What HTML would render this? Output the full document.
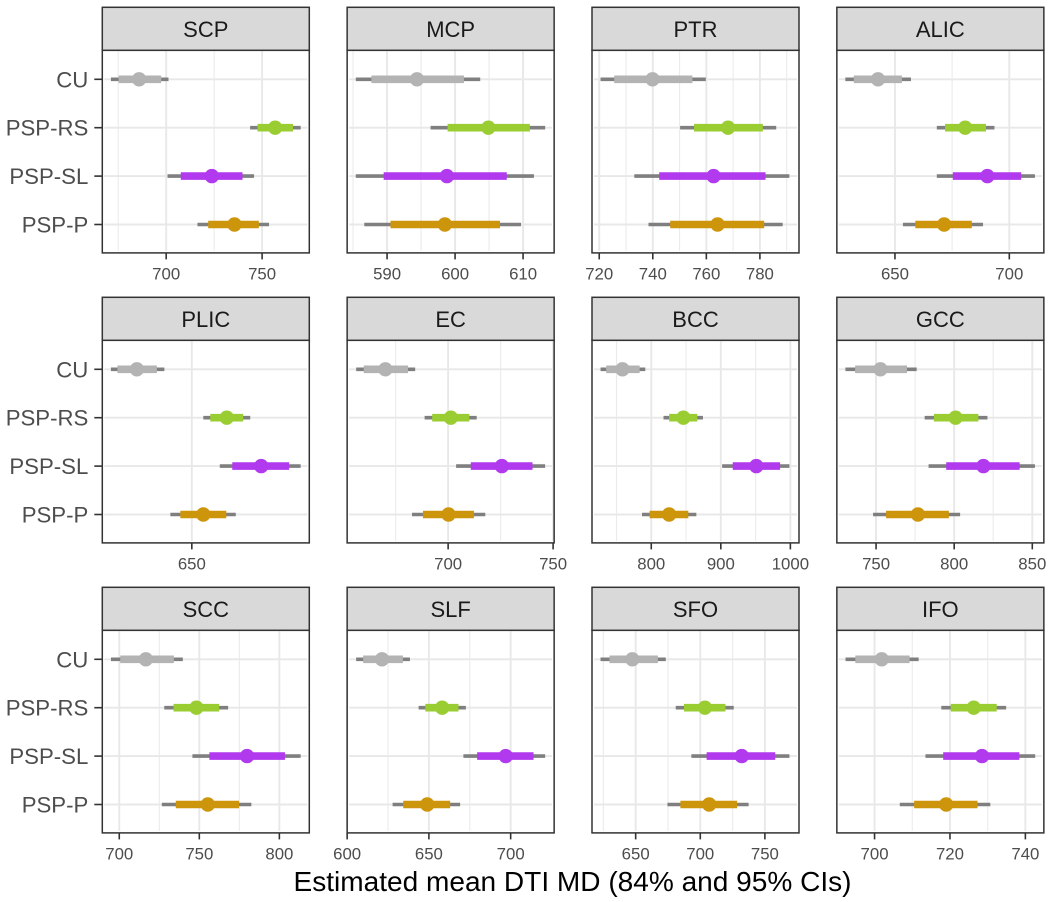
<!DOCTYPE html>
<html lang="en">
<head>
<meta charset="utf-8">
<title>Estimated mean DTI MD by region and group</title>
<style>
html,body{margin:0;padding:0;background:#fff;}
svg{display:block;font-family:"Liberation Sans",Arial,sans-serif;}
</style>
</head>
<body>
<svg id="chart" xmlns="http://www.w3.org/2000/svg" width="1050" height="902" viewBox="0 0 1050 902">
  <rect x="0" y="0" width="1050" height="902" fill="#ffffff"></rect>
  <text x="572.5" y="891" text-anchor="middle" font-size="28.05" fill="#000000">Estimated mean DTI MD (84% and 95% CIs)</text>
</svg>
<script>
const regions = ['SCP','MCP','PTR','ALIC','PLIC','EC','BCC','GCC','SCC','SLF','SFO','IFO'];
const groups = ['CU','PSP-RS','PSP-SL','PSP-P'];
const groupColors = ['#b3b3b3','#9acd32','#b23aee','#cd950c'];

const domainMin = [666.7,584.13,717.3,624.6,632.07,651.9,714.8,724.9,689.4,600,616.2,690];
const domainMax = [774.6,614.57,794.6,715.1,673.53,750.5,1012.4,857.4,818.7,726.6,776.4,744.9];

const majorTicks = [
  [700,750],[590,600,610],[720,740,760,780],[650,700],
  [650],[700,750],[800,900,1000],[750,800,850],
  [700,750,800],[600,650,700],[650,700,750],[700,720,740]
];
const minorTicks = [
  [675,725],[585,595,605],[730,750,770,790],[675],
  [],[675,725],[750,850,950],[775,825],
  [725,775],[625,675],[625,675,725],[710,730]
];

const lower95 = [
  [671.2,743.75,700.7,716.3],[585.4,596.4,585.4,586.65],[720.5,750.2,733.1,738.4],[628.3,668.3,668.3,653.5],
  [633.8,652.3,655.6,645.7],[656.2,688.8,703.8,682.8],[727.1,817.6,901.9,786.7],[730.4,781.1,783.6,748.1],
  [694.8,728.1,745.7,726.6],[605.5,643.7,671.1,627.8],[622.8,681,693.1,674.6],[692.3,717.7,713.5,706.7]
];
const lower84 = [
  [675.2,747.6,707.6,721.9],[587.7,598.9,589.5,590.5],[725.6,755.4,742.4,746.5],[632,671.9,675.3,658.9],
  [635.1,653.7,658.1,647.7],[659.8,692.4,710.8,688],[735.2,825.7,917.1,797.6],[736.6,787,794.9,756.4],
  [700.6,733.9,756.3,735.3],[609.8,647.8,679.5,634.3],[629.7,687.4,704.9,684.6],[694.9,720.2,718.2,710.5]
];
const medians = [
  [685.9,756.8,723.8,735.6],[594.4,604.9,598.8,598.5],[739.9,768.1,762.7,764.2],[642.6,680.7,690.4,671.5],
  [639,657,663.9,652.3],[670.1,701.3,725.6,700.2],[758.6,846.2,951,825.7],[752.8,800.9,818.7,776.8],
  [716.6,748.2,779.8,755.3],[621.3,658.1,697,649],[647.4,703.6,732.1,706.9],[701.9,726.3,728.5,719]
];
const upper84 = [
  [697.4,766.1,739.8,748.3],[601.3,611,607.6,606.6],[754.8,781.1,782.1,781.6],[653.05,689.8,705.2,683.6],
  [643,660.3,669.5,656.9],[680.9,710.1,740.2,712.3],[783.3,866.2,985.2,853.3],[769.8,815.5,841.9,796.6],
  [734.1,762.4,803.5,774.8],[634.1,668.1,714,663],[667.2,719.5,758,728.5],[709.3,732.4,738.4,727.3]
];
const upper95 = [
  [701.2,770.1,745.8,753.6],[603.7,613.25,611.6,609.7],[759.8,786.1,791,788.5],[657,693.5,711.2,688.5],
  [644.5,661.7,671.8,658.8],[684.3,713.6,746.2,717.7],[791.4,874.3,998.6,864.8],[776,821.3,851.7,803.8],
  [739.7,768,813.3,782.5],[638.4,672.6,721.1,669.1],[673.3,725.9,769,737.4],[711.7,734.9,742.6,730.7]
];

const NS = 'http://www.w3.org/2000/svg';
const svg = document.getElementById('chart');

function shape(parent, tag, attrs, text) {
  const el = document.createElementNS(NS, tag);
  for (const k in attrs) el.setAttribute(k, attrs[k]);
  if (text !== undefined) el.textContent = text;
  parent.appendChild(el);
  return el;
}
function panelBox(p) {
  const col = p % 4, row = Math.floor(p / 4);
  const left = 102.3 + col * 244.85;
  const stripTop = 7.3 + row * 290;
  return { left: left, right: left + 207, stripTop: stripTop, top: stripTop + 43, bottom: stripTop + 245.6 };
}
function xScale(p, v) {
  const b = panelBox(p);
  return b.left + (v - domainMin[p]) / (domainMax[p] - domainMin[p]) * (b.right - b.left);
}
function yScale(p, g) {
  const b = panelBox(p);
  return b.top + 29 + g * 48.4;
}

regions.forEach(function (region, p) {
  const b = panelBox(p);
  const key = region.toLowerCase();

  const panel = shape(svg, 'g', {});
  
  

  const bg = shape(panel, 'rect', { x: b.left, y: b.top, width: b.right - b.left, height: b.bottom - b.top, fill: '#ffffff' });
  
  

  minorTicks[p].forEach(function (t) {
    const x = xScale(p, t);
    const gl = shape(panel, 'line', { x1: x, x2: x, y1: b.top + 1, y2: b.bottom - 2, stroke: '#ebebeb', 'stroke-width': 1.1 });
    
    
  });
  majorTicks[p].forEach(function (t) {
    const x = xScale(p, t);
    const gl = shape(panel, 'line', { x1: x, x2: x, y1: b.top + 1, y2: b.bottom - 2, stroke: '#e8e8e8', 'stroke-width': 1.9 });
    
    
  });
  groups.forEach(function (g, i) {
    const y = yScale(p, i);
    const gl = shape(panel, 'line', { x1: b.left + 2, x2: b.right - 2, y1: y, y2: y, stroke: '#e8e8e8', 'stroke-width': 1.9 });
    
    
  });

  groups.forEach(function (g, i) {
    const y = yScale(p, i);
    const gkey = g.toLowerCase();

    const thin = shape(panel, 'line', { x1: xScale(p, lower95[p][i]), x2: xScale(p, upper95[p][i]), y1: y, y2: y, stroke: '#7f7f7f', 'stroke-width': 3.6 });
    
    

    const thick = shape(panel, 'line', { x1: xScale(p, lower84[p][i]), x2: xScale(p, upper84[p][i]), y1: y, y2: y, stroke: groupColors[i], 'stroke-width': 7.6 });
    
    

    const dot = shape(panel, 'circle', { cx: xScale(p, medians[p][i]), cy: y, r: 7.2, fill: groupColors[i] });
    
    
  });

  const border = shape(panel, 'rect', { x: b.left, y: b.top, width: b.right - b.left, height: b.bottom - b.top, fill: 'none', stroke: '#333333', 'stroke-width': 1.5 });
  
  

  const strip = shape(panel, 'rect', { x: b.left, y: b.stripTop, width: b.right - b.left, height: b.top - b.stripTop, fill: '#d9d9d9', stroke: '#333333', 'stroke-width': 1.5 });
  
  

  const stripLabel = shape(panel, 'text', { x: (b.left + b.right) / 2, y: b.stripTop + 29.5, 'text-anchor': 'middle', 'font-size': 22, fill: '#1a1a1a' }, region);
  
  

  majorTicks[p].forEach(function (t) {
    const x = xScale(p, t);
    const tick = shape(panel, 'line', { x1: x, x2: x, y1: b.bottom, y2: b.bottom + 6.5, stroke: '#333333', 'stroke-width': 1.6 });
    
    

    const label = shape(panel, 'text', { x: x, y: b.bottom + 26.5, 'text-anchor': 'middle', 'font-size': 16.8, fill: '#4d4d4d' }, String(t));
    
    
  });

  if (p % 4 === 0) {
    groups.forEach(function (g, i) {
      const y = yScale(p, i);
      const tick = shape(panel, 'line', { x1: b.left - 8, x2: b.left, y1: y, y2: y, stroke: '#333333', 'stroke-width': 1.6 });
      
      

      const label = shape(panel, 'text', { x: b.left - 14, y: y + 8, 'text-anchor': 'end', 'font-size': 22.2, fill: '#4d4d4d' }, g);
      
      
    });
  }
});
</script>
</body>
</html>
